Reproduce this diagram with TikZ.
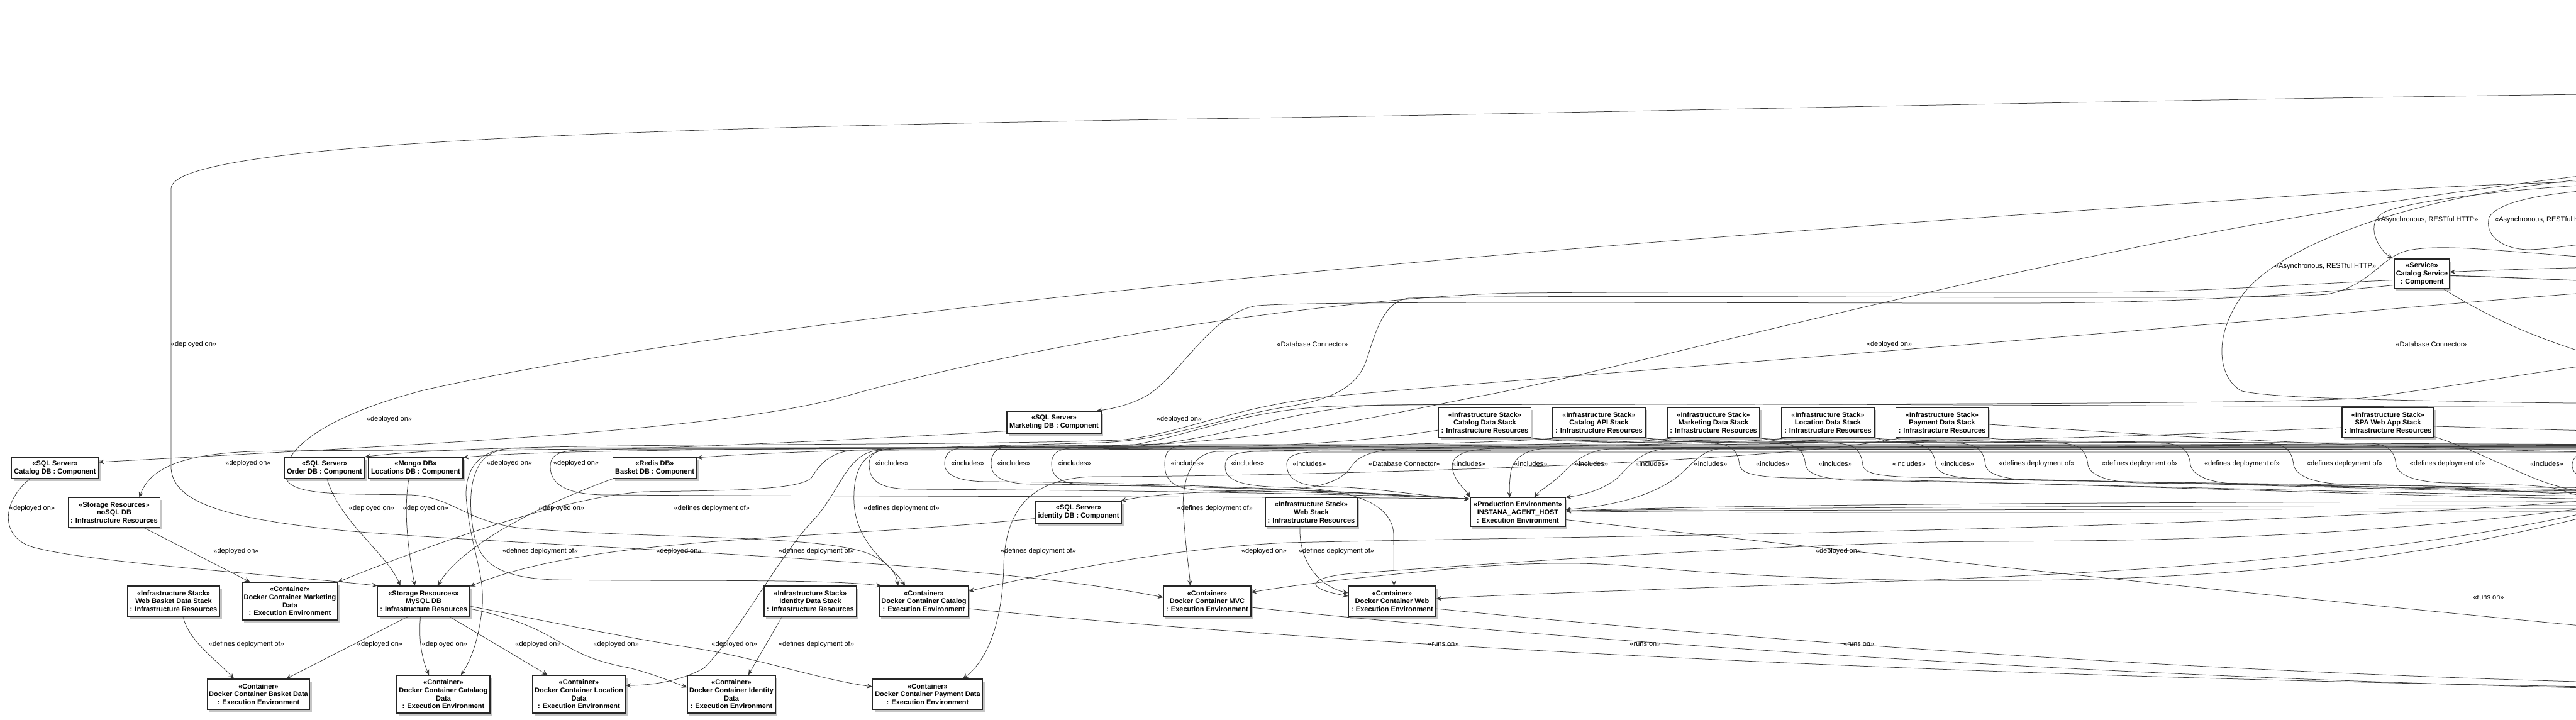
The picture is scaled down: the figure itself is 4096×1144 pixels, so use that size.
\documentclass[tikz,border=0pt]{standalone}
\usepackage{fontspec}
\setmainfont{Liberation Sans}
\usetikzlibrary{arrows.meta,shadows,calc}
\pgfdeclarelayer{back}
\pgfdeclarelayer{edges}
\pgfsetlayers{back,edges,main}
\tikzset{
  box/.style={draw=black!85, line width=1.1pt, fill=white, align=center, inner sep=0pt,
    font=\bfseries\fontsize{11pt}{12.7pt}\selectfont,
    drop shadow={shadow xshift=3pt, shadow yshift=-3.5pt, fill=black!50, opacity=0.45}},
  lbl/.style={font=\fontsize{11pt}{12.7pt}\selectfont, inner sep=0pt},
  edge/.style={draw=black!78, line width=0.75pt},
  arr/.style={edge, -{Stealth[length=8.5pt,width=7.5pt,inset=3pt]}},
}
\begin{document}
\begin{tikzpicture}[x=1pt,y=-1pt]
\useasboundingbox (0,0) rectangle (4096,1144);
\begin{pgfonlayer}{back}
\fill[white] (0,0) rectangle (4096,1144);
\end{pgfonlayer}

% ---------------- nodes
\node[box,minimum width=138pt,minimum height=34pt] (catdb) at (87.5,744) {«SQL Server»\\Catalog DB : Component};
\node[box,minimum width=146pt,minimum height=47pt] (nosql) at (181.5,815) {«Storage Resources»\\noSQL DB\\: Infrastructure Resources};
\node[box,minimum width=127pt,minimum height=34pt] (orderdb) at (516,744) {«SQL Server»\\Order DB : Component};
\node[box,minimum width=150pt,minimum height=34pt] (locdb) at (661,744) {«Mongo DB»\\Locations DB : Component};
\node[box,minimum width=133pt,minimum height=34pt] (basketdb) at (1041,744) {«Redis DB»\\Basket DB : Component};
\node[box,minimum width=150pt,minimum height=35pt] (mktdb) at (1676,671.5) {«SQL Server»\\Marketing DB : Component};
\node[box,minimum width=137pt,minimum height=35pt] (iddb) at (1715,814.5) {«SQL Server»\\identity DB : Component};
\node[box,minimum width=146pt,minimum height=46pt] (webstack) at (2085,814.5) {«Infrastructure Stack»\\Web Stack\\: Infrastructure Resources};
\node[box,minimum width=151pt,minimum height=46pt] (instana) at (2413.5,814.5) {«Production Environment»\\INSTANA\_AGENT\_HOST\\: Execution Environment};
\node[box,minimum width=147pt,minimum height=48pt] (catdatastack) at (2361,672) {«Infrastructure Stack»\\Catalog Data Stack\\: Infrastructure Resources};
\node[box,minimum width=147pt,minimum height=48pt] (catapistack) at (2542.5,672) {«Infrastructure Stack»\\Catalog API Stack\\: Infrastructure Resources};
\node[box,minimum width=147pt,minimum height=48pt] (mktdatastack) at (2724.5,672) {«Infrastructure Stack»\\Marketing Data Stack\\: Infrastructure Resources};
\node[box,minimum width=147pt,minimum height=48pt] (locdatastack) at (2906.5,672) {«Infrastructure Stack»\\Location Data Stack\\: Infrastructure Resources};
\node[box,minimum width=147pt,minimum height=48pt] (paydatastack) at (3088,672) {«Infrastructure Stack»\\Payment Data Stack\\: Infrastructure Resources};
\node[box,minimum width=146pt,minimum height=48pt] (spastack) at (3797,672) {«Infrastructure Stack»\\SPA Web App Stack\\: Infrastructure Resources};
\node[box,minimum width=88pt,minimum height=47pt] (catsvc) at (3851,435.5) {«Service»\\Catalog Service\\: Component};
\node[box,minimum width=147pt,minimum height=48pt] (webbasketstack) at (276,956) {«Infrastructure Stack»\\Web Basket Data Stack\\: Infrastructure Resources};
\node[box,minimum width=152pt,minimum height=60pt] (dcmkt) at (461,956) {«Container»\\Docker Container Marketing\\Data\\: Execution Environment};
\node[box,minimum width=146pt,minimum height=48pt] (mysql) at (673.6,956) {«Storage Resources»\\MySQL DB\\: Infrastructure Resources};
\node[box,minimum width=147pt,minimum height=48pt] (idstack) at (1288.5,956) {«Infrastructure Stack»\\Identity Data Stack\\: Infrastructure Resources};
\node[box,minimum width=142pt,minimum height=48pt] (dccatalog) at (1469,956) {«Container»\\Docker Container Catalog\\: Execution Environment};
\node[box,minimum width=139pt,minimum height=48pt] (dcmvc) at (1919.5,956) {«Container»\\Docker Container MVC\\: Execution Environment};
\node[box,minimum width=139pt,minimum height=48pt] (dcweb) at (2213.5,956) {«Container»\\Docker Container Web\\: Execution Environment};
\node[box,minimum width=163pt,minimum height=48pt] (dcbasket) at (411,1104) {«Container»\\Docker Container Basket Data\\: Execution Environment};
\node[box,minimum width=148pt,minimum height=60pt] (dccatdata) at (705,1104) {«Container»\\Docker Container Catalaog\\Data\\: Execution Environment};
\node[box,minimum width=148pt,minimum height=60pt] (dclocdata) at (920.5,1104) {«Container»\\Docker Container Location\\Data\\: Execution Environment};
\node[box,minimum width=140pt,minimum height=60pt] (dciddata) at (1163,1104) {«Container»\\Docker Container Identity\\Data\\: Execution Environment};
\node[box,minimum width=175pt,minimum height=48pt] (dcpaydata) at (1475,1104) {«Container»\\Docker Container Payment Data\\: Execution Environment};

% ---------------- connectors
\begin{pgfonlayer}{edges}
\begin{scope}
\clip (0,0) rectangle (4096,1144);
\coordinate (oTA) at (4260,148);
\coordinate (oTB) at (4260,285);
\coordinate (oTE) at (4260,418);
\coordinate (oTF) at (4260,262);
\coordinate (oTG) at (4260,455);
\coordinate (oNS) at (4260,648);
\coordinate (oA1) at (4260,288);
\coordinate (oA2a) at (4260,296);
\coordinate (oA2b) at (4260,376);
\coordinate (oA3a) at (4260,276);
\coordinate (oA3b) at (4260,643);
\coordinate (oA5) at (4260,423);
\coordinate (oA6) at (4260,452);
\coordinate (oA7) at (4260,600);
\coordinate (oD2) at (4260,562);
\coordinate (oW) at (4260,716);
\coordinate (oID) at (4260,713);
\coordinate (oI1) at (4260,704);
\coordinate (oI2) at (4260,706);
\coordinate (oI3) at (4260,708);
\coordinate (oI4) at (4260,710);
\coordinate (oI5) at (4260,712);
\coordinate (oX1) at (4260,698);
\coordinate (oX2) at (4260,772);
\coordinate (oS1) at (4260,800);
\coordinate (oS2) at (4260,688);
\coordinate (oP1) at (4260,722);
\coordinate (oR1b) at (4260,1094);
\coordinate (oR2b) at (4260,1097);
\coordinate (oR3b) at (4260,1088);
\coordinate (oR4b) at (4260,1010);
\coordinate (oR5) at (4260,880);
\coordinate (oR6) at (4260,932);
\coordinate (oR7) at (4260,843);
\coordinate (oR8) at (4260,874);

% top arcs
\draw[arr] (oTA) .. controls (3300,160) and (2600,178) .. (2047,187) .. controls (900,203) and (272,232) .. (272,300) -- (272,745) .. controls (276,800) and (360,826) .. (560,845) .. controls (900,872) and (1550,890) .. ($(dcmvc.west)+(0,-6)$);
\draw[arr] (oTB) .. controls (3900,292) and (3700,308) .. (3498,322) .. controls (2700,375) and (1300,480) .. (676,620) .. controls (520,660) and (445,715) .. (455,760) .. controls (462,790) and (560,785) .. (653,787) .. controls (720,790) and (740,830) .. (830,840) .. controls (1050,858) and (1300,850) .. (1380,880) .. controls (1410,892) and (1425,910) .. ($(dccatalog.north)+(-41,0)$);
\draw[arr] ($(catsvc.west)+(0,10)$) .. controls (3650,452) and (3500,465) .. (3300,465) .. controls (3000,465) and (2600,464) .. (2418,466) .. controls (2200,468) and (1700,530) .. (1345,630) .. controls (1150,685) and (700,705) .. ($(catdb.east)+(0,-9)$);
\draw[arr] ($(catsvc.west)+(0,18)$) .. controls (3650,470) and (3450,482) .. (3200,482) .. controls (2700,482) and (2100,478) .. (2000,486) .. controls (1930,495) and (1880,590) .. (1830,625) .. controls (1805,642) and (1770,650) .. ($(mktdb.north east)+(-8,0)$);
\draw[arr] (oTE) .. controls (4000,405) and (3900,385) .. (3830,398) .. controls (3785,408) and (3770,455) .. (3700,468) .. controls (3550,480) and (2600,466) .. (2240,474) .. controls (2195,480) and (2185,540) .. (2170,580) .. controls (2150,625) and (2100,638) .. (2040,648) .. controls (1950,662) and (1860,700) .. (1750,704) .. controls (1400,714) and (1200,720) .. ($(basketdb.east)+(0,-16)$);
\draw[arr] (oTF) .. controls (3900,300) and (3650,345) .. (3498,373) .. controls (3000,470) and (2500,605) .. (2353,630) .. controls (2200,660) and (2080,690) .. (1850,706) .. controls (1400,716) and (900,712) .. ($(locdb.north east)+(0,1)$);
\draw[arr] (oTG) .. controls (3900,480) and (3700,502) .. (3498,517) .. controls (3000,560) and (2300,612) .. (2100,632) .. controls (1950,650) and (1880,690) .. (1780,700) .. controls (1400,712) and (800,700) .. (orderdb.north east);
\draw[arr] (oNS) .. controls (3300,646) and (2400,638) .. (2120,646) .. controls (1980,652) and (1900,690) .. (1800,708) .. controls (1300,718) and (550,714) .. (400,718) .. controls (300,722) and (240,740) .. ($(nosql.north)+(40,0)$);

% around Catalog Service
\draw[arr] (oA1) .. controls (4050,292) and (3830,318) .. (3790,338) .. controls (3760,355) and (3780,395) .. ($(catsvc.north west)+(-2,0)$);
\draw[edge] (oA2a) .. controls (4060,300) and (3975,318) .. (3958,345) .. controls (3950,372) and (3975,396) .. (4020,397) .. controls (4070,396) and (4120,382) .. (oA2b);
\draw[edge] (oA3a) .. controls (3900,285) and (3630,380) .. (3565,470) .. controls (3515,540) and (3530,605) .. (3565,622) .. controls (3620,634) and (3800,636) .. (4000,640) -- (oA3b);
\draw[arr] (oA5) .. controls (4100,425) and (4000,428) .. ($(catsvc.east)+(0,-3)$);
\draw[edge,line width=1.1pt] ($(catsvc.east)+(0,3)$) .. controls (3980,440) and (4100,447) .. (oA6);
\draw[edge] ($(catsvc.south east)+(-10,0)$) .. controls (3950,500) and (4050,555) .. (oA7);

% databases -> storage
\draw[arr] ($(catdb.south)+(-40,0)$) .. controls (0,800) and (0,860) .. (60,872) .. controls (150,895) and (450,915) .. (mysql.north west);
\draw[arr] ($(nosql.south)+(47,0)$) -- ($(dcmkt.north west)+(13,0)$);
\draw[arr] ($(orderdb.south)+(4,0)$) .. controls (540,830) and (615,880) .. ($(mysql.north)+(-37,0)$);
\draw[arr] ($(locdb.south)+(-11,0)$) .. controls (640,820) and (652,890) .. ($(mysql.north)+(-14,0)$);
\draw[arr] (basketdb.south west) .. controls (880,795) and (740,860) .. ($(mysql.north)+(22,0)$);
\draw[arr] ($(iddb.west)+(0,10)$) .. controls (1300,860) and (950,850) .. ($(mysql.north east)+(0,1)$);

% storage -> containers
\draw[arr] ($(mysql.south)+(-25,0)$) -- ($(dcbasket.north east)+(-38,0)$);
\draw[arr] ($(mysql.south)+(-5,0)$) .. controls (665,1020) and (672,1050) .. ($(dccatdata.north)+(-23,0)$);
\draw[arr] ($(mysql.south)+(41,0)$) -- ($(dclocdata.north)+(-50,0)$);
\draw[arr] ($(mysql.east)+(0,12)$) .. controls (900,1000) and (880,1040) .. (1000,1062) .. controls (1040,1072) and (1070,1085) .. ($(dciddata.west)+(0,-11)$);
\draw[arr] ($(mysql.east)+(0,8)$) .. controls (880,990) and (1000,1015) .. (1100,1030) .. controls (1200,1045) and (1300,1080) .. ($(dcpaydata.west)+(0,-12)$);

% stacks -> containers
\draw[arr] ($(webbasketstack.south)+(15,0)$) .. controls (300,1020) and (345,1050) .. ($(dcbasket.north)+(-39,0)$);
\draw[arr] ($(idstack.south)+(-45,0)$) -- ($(dciddata.north)+(27,0)$);
\draw[arr] ($(catdatastack.west)+(0,12)$) .. controls (2220,695) and (2100,708) .. (1950,710) .. controls (1500,713) and (1000,711) .. (815,713) .. controls (750,715) and (737,760) .. (742,800) .. controls (750,880) and (775,920) .. (765,980) .. controls (758,1030) and (745,1055) .. ($(dccatdata.north)+(28,0)$);
\draw[arr] (oD2) .. controls (4100,580) and (3900,615) .. (3757,633) .. controls (3600,645) and (2600,642) .. (2200,644) .. controls (2050,648) and (1950,700) .. (1800,710) .. controls (1300,716) and (900,712) .. (800,716) .. controls (752,720) and (742,780) .. (752,840) .. controls (760,895) and (790,918) .. (880,922) .. controls (1100,925) and (1300,920) .. ($(dccatalog.north west)+(4,0)$);
\draw[arr] ($(mktdatastack.south west)+(8,0)$) .. controls (2600,710) and (2000,712) .. (1360,716) .. controls (1315,718) and (1300,745) .. (1290,760) .. controls (1270,780) and (1150,780) .. (1024,782) .. controls (900,790) and (700,860) .. (dcmkt.north east);
\draw[arr] ($(catapistack.south west)+(8,0)$) .. controls (2300,712) and (1700,711) .. (1420,713) .. controls (1370,716) and (1356,750) .. (1358,800) .. controls (1362,870) and (1420,900) .. ($(dccatalog.north)+(-30,0)$);
\draw[arr] ($(locdatastack.south west)+(8,0)$) .. controls (2700,714) and (1800,714) .. (1400,716) .. controls (1350,718) and (1340,770) .. (1300,820) .. controls (1240,880) and (1180,1000) .. (1120,1062) .. controls (1080,1085) and (1030,1090) .. ($(dclocdata.east)+(0,-14)$);
\draw[arr] ($(paydatastack.south west)+(8,0)$) .. controls (2800,740) and (2000,758) .. (1740,758) .. controls (1630,760) and (1598,820) .. (1596,900) .. controls (1594,990) and (1570,1050) .. ($(dcpaydata.north east)+(-32,0)$);
\draw[arr] ($(spastack.west)+(0,8)$) .. controls (3500,690) and (3200,700) .. (3000,703) .. controls (2500,710) and (2100,716) .. (1935,718) .. controls (1890,721) and (1878,770) .. (1882,820) .. controls (1886,880) and (1891,905) .. ($(dcmvc.north)+(-27,0)$);
\draw[arr] ($(webstack.south)+(-18,0)$) .. controls (2065,890) and (2095,932) .. ($(dcweb.west)+(0,-13)$);
\draw[arr] (oW) .. controls (3200,712) and (2300,716) .. (1995,718) .. controls (1955,720) and (1948,728) .. (1948,742) .. controls (1948,765) and (1975,774) .. (2048,775) .. controls (2150,778) and (2214,800) .. (2216,850) -- ($(dcweb.north)+(3,0)$);

% includes -> production environment (left bundle)
\foreach \d/\ya/\yb/\i in {1382/714/778/1, 1502/711/766/2, 1576/709/770/3, 1672/712/772/4, 1852/707/780/5, 2046/719/774/6} {
  \coordinate (oL\i) at (4260,\ya);
  \draw[arr] (oL\i) .. controls (3200,\ya) and ({\d+400},\ya) .. ({\d+45},\ya) .. controls ({\d+8},\ya) and (\d,{\ya+10}) .. (\d,738) .. controls (\d,{\yb-14}) and ({\d+15},\yb) .. ({\d+70},\yb) .. controls ({0.5*\d+1168},{\yb+2}) and (2250,788) .. ($(instana.west)+(-1,-21)$);
}
\draw[arr] ($(mktdb.south west)+(0,-4)$) .. controls (1400,697) and (1100,712) .. (920,716) .. controls (882,717) and (875,728) .. (875,742) .. controls (875,770) and (900,786) .. (960,787) .. controls (1500,790) and (2150,790) .. ($(instana.west)+(-1,-21)$);
\draw[arr] (oID) .. controls (3500,712) and (2800,713) .. (2244,713) .. controls (2185,714) and (2160,725) .. (2150,740) .. controls (2135,765) and (2100,776) .. (2040,779) .. controls (1950,782) and (1850,782) .. ($(iddb.north east)+(-2,0)$);

% includes -> production environment (top)
\draw[arr] (oI1) .. controls (3500,706) and (2700,712) .. (2380,713) .. controls (2320,714) and (2305,728) .. (2310,748) .. controls (2315,768) and (2330,778) .. (instana.north west);
\draw[arr] (oI2) .. controls (3500,708) and (2800,712) .. (2460,713) .. controls (2420,715) and (2405,732) .. (2402,752) .. controls (2400,768) and (2400,776) .. ($(instana.north)+(-13,0)$);
\draw[arr] (oI3) .. controls (3500,710) and (2900,712) .. (2560,714) .. controls (2522,716) and (2502,735) .. (2482,755) .. controls (2464,772) and (2448,780) .. ($(instana.north)+(26,0)$);
\draw[arr] (oI4) .. controls (3500,711) and (3000,712) .. (2650,714) .. controls (2612,716) and (2596,735) .. (2572,760) .. controls (2545,782) and (2510,788) .. (instana.north east);
\draw[arr] (oI5) .. controls (3600,712) and (3100,712) .. (2740,713) .. controls (2702,715) and (2692,740) .. (2662,762) .. controls (2612,796) and (2545,806) .. ($(instana.east)+(0,-4)$);
\foreach \y/\i in {798/1,804/2,809/3,814/4} {
  \coordinate (oH\i) at (4260,\y);
  \draw[arr] (oH\i) .. controls (3500,\y) and (2800,{\y+3}) .. ($(instana.east)+(0,-2)$);
}

% stacks -> right (S-curves)
\foreach \s/\d/\ya/\yb/\i in {catdatastack/2766/758/795/1, catapistack/2871/762/790/2, mktdatastack/2962/757/785/3, locdatastack/3078/760/782/4, catdatastack/3157/762/776/5, catapistack/3320/766/779/6, mktdatastack/3483/768/784/7, locdatastack/3647/768/788/8, paydatastack/3810/766/792/9} {
  \coordinate (oR\i) at (4260,\yb);
  \draw[edge] (\s.south east) .. controls ($(\s.south east)+(40,8)$) and ({\d-120},703) .. ({\d-40},705) .. controls ({\d-8},707) and ({\d-2},722) .. (\d,740) .. controls ({\d+3},752) and ({\d+20},\ya) .. ({\d+80},{\ya+2}) .. controls ({\d+400},{\ya+6}) and (3950,\yb) .. (oR\i);
}
\draw[edge] (oX1) .. controls (4150,700) and (4092,712) .. (4090,738) .. controls (4088,762) and (4120,770) .. (oX2);
\draw[edge] ($(spastack.south east)+(0,-2)$) .. controls (3920,710) and (3980,740) .. (4012,753) .. controls (4050,770) and (4100,790) .. (oS1);
\draw[edge] ($(spastack.east)+(0,6)$) .. controls (3950,680) and (4050,684) .. (oS2);
\draw[edge] ($(paydatastack.east)+(0,3)$) .. controls (3400,690) and (3700,712) .. (oP1);

% bottom right
\draw[edge] ($(dccatalog.east)+(0,12)$) .. controls (2000,1015) and (3000,1078) .. (oR1b);
\draw[edge] ($(dcmvc.east)+(0,10)$) .. controls (2400,1010) and (3300,1080) .. (oR2b);
\draw[edge] ($(dcweb.east)+(0,12)$) .. controls (2600,1000) and (3400,1070) .. (oR3b);
\draw[edge] ($(instana.east)+(0,12)$) .. controls (2900,872) and (3500,938) .. (oR4b);
\draw[arr] (oR5) .. controls (3900,890) and (3300,912) .. (3072,922) .. controls (2700,935) and (2400,945) .. ($(dcweb.east)+(0,-4)$);
\draw[arr] (oR6) .. controls (3800,928) and (3300,924) .. (3072,923) .. controls (2800,920) and (2650,905) .. (2590,900) .. controls (2450,888) and (2300,905) .. (2200,915) .. controls (2100,925) and (2030,935) .. ($(dcmvc.east)+(0,-14)$);
\draw[arr] (oR7) .. controls (3600,846) and (2500,852) .. (2048,863) .. controls (1850,872) and (1650,915) .. ($(dccatalog.east)+(0,-16)$);
\draw[arr] (oR8) .. controls (3700,870) and (3300,858) .. (3072,862) .. controls (2700,872) and (2350,898) .. (2150,912) .. controls (2080,918) and (2070,935) .. ($(dcweb.west)+(0,-8)$);
\end{scope}
\end{pgfonlayer}

% ---------------- labels
\foreach \x/\y [count=\i] in {308/548, 619/667, 394.5/737, 51/809, 375.5/876.7, 591/809, 677/809, 810/737, 916/737, 893/809, 1079.5/876.7, 1875/667, 2010/876.7, 2923/876.7, 3004/548, 604/1025, 707/1025, 855.5/1025, 979.6/1025, 1167.7/1025}
  \node[lbl] (ldep\i) at (\x,\y) {«deployed on»};
\foreach \x/\y [count=\i] in {859/876.7, 392/1025, 1131.8/809, 1433.5/809, 1931.8/809, 1298/876.7, 1651/876.7, 1298/1025, 2125/876.7, 3238.5/737.7, 3401.8/737.7, 3565/737.7, 3728/737.7, 3891.6/737.7}
  \node[lbl] (ldef\i) at (\x,\y) {«defines deployment of»};
\foreach \x/\y [count=\i] in {1418/737, 1538.6/737, 1611.8/737, 1708.4/737, 1888/737, 1984/737, 2082/737.7, 2336/737.7, 2434/737.7, 2530.6/737.7, 2627/737.7, 2720/737.7, 2818.6/737.7, 2918.5/737.7, 3035.4/737.7, 3112.5/737.7, 4049.6/737.7}
  \node[lbl] (linc\i) at (\x,\y) {«includes»};
\foreach \x/\y [count=\i] in {2087/548, 2232.8/737.7, 3866/547.7}
  \node[lbl] (ldb\i) at (\x,\y) {«Database Connector»};
\foreach \x/\y [count=\i] in {3860/350, 3697.6/424}
  \node[lbl] (lasy\i) at (\x,\y) {«Asynchronous, RESTful HTTP»};
% third label: cut by the right edge, as in the reference
\node[lbl, anchor=west] (lasy3) at (3967,350) {«Asynchronous, RESTful HTTP»};
\foreach \x/\y [count=\i] in {2295/1025, 2616/1025, 2955.7/1025, 3957/950.7}
  \node[lbl] (lrun\i) at (\x,\y) {«runs on»};
\end{tikzpicture}
\end{document}
